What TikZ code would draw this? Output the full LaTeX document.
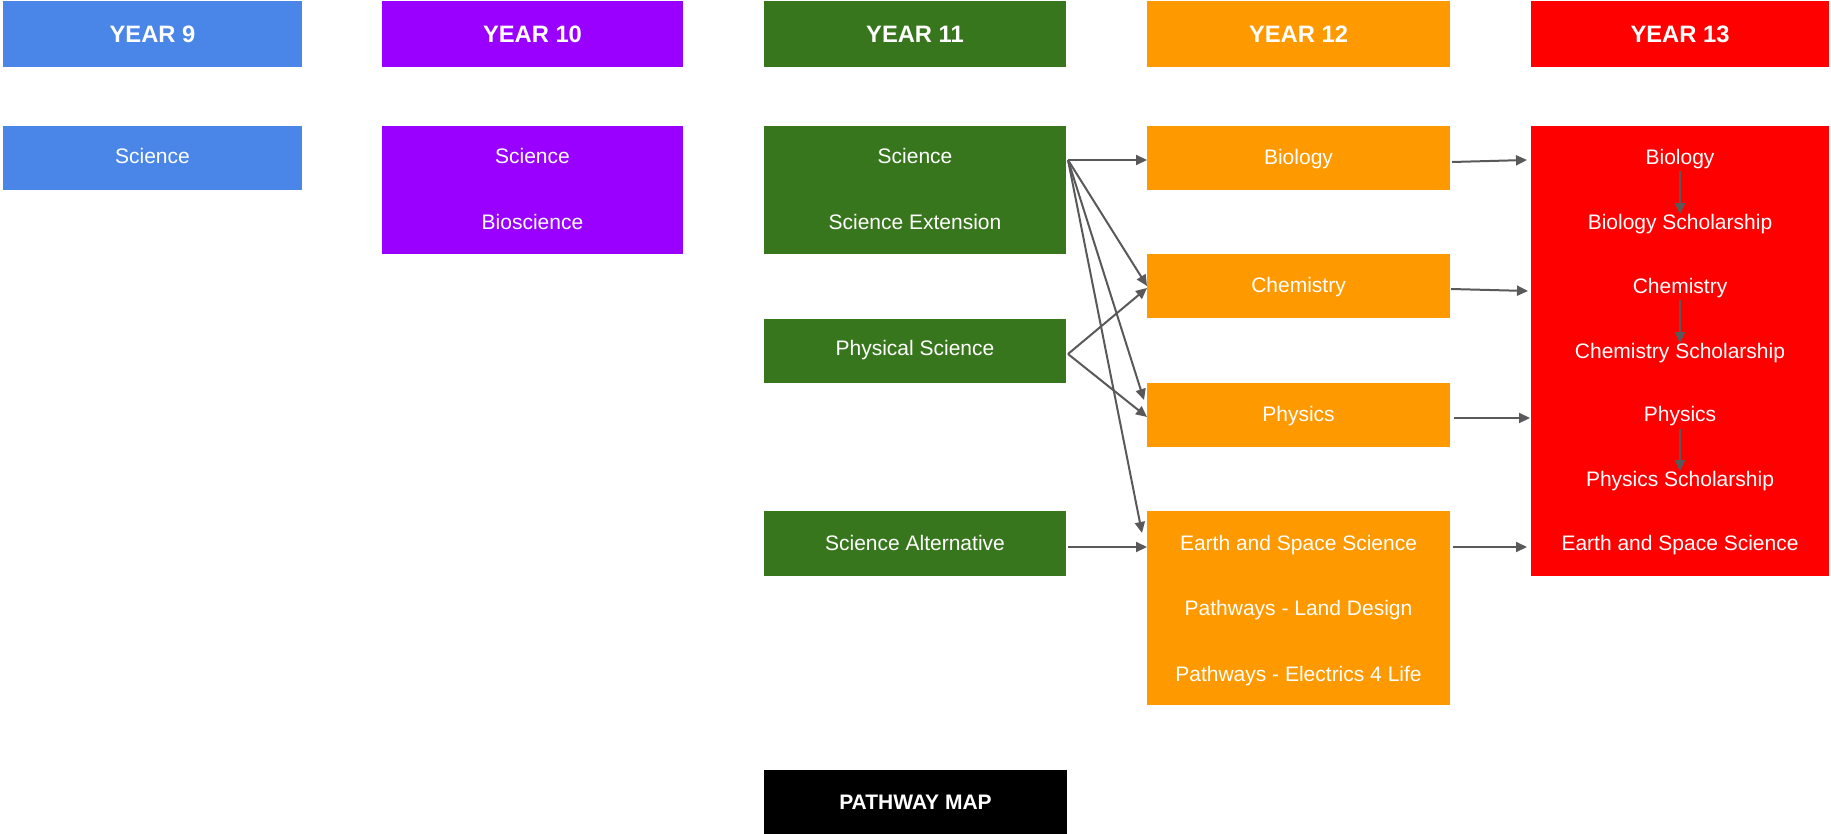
\documentclass[tikz,border=0pt]{standalone}
\usepackage{fontspec}
\setmainfont{Liberation Sans}
\usetikzlibrary{arrows.meta,fit,calc}
\definecolor{cnine}{HTML}{4A86E8}
\definecolor{cten}{HTML}{9900FF}
\definecolor{celeven}{HTML}{38761D}
\definecolor{ctwelve}{HTML}{FF9900}
\definecolor{cthirteen}{HTML}{FF0000}
\definecolor{arrowgray}{HTML}{595959}
\tikzset{
  box/.style={inner sep=0pt, outer sep=0pt},
  lbl/.style={inner sep=0pt, outer sep=0pt, text=white, font=\fontsize{15.75}{18}\selectfont},
  headlbl/.style={lbl, font=\fontsize{17.8}{20}\selectfont\bfseries},
  conn/.style={draw=arrowgray, line width=1.5pt, -{Triangle[length=8.25pt,width=7.5pt]}}
}
\begin{document}
\begin{tikzpicture}[x=0.75pt,y=-0.75pt]
\useasboundingbox (0,0) rectangle (1831,834);
% headers
\node[box, fill=cnine, fit={(3,1) (302,67)}] (h9) {};
\node[headlbl] (th9) at (h9.center) {YEAR 9};
\node[box, fill=cten, fit={(382,1) (683,67)}] (h10) {};
\node[headlbl] (th10) at (h10.center) {YEAR 10};
\node[box, fill=celeven, fit={(764,1) (1066,67)}] (h11) {};
\node[headlbl] (th11) at (h11.center) {YEAR 11};
\node[box, fill=ctwelve, fit={(1147,1) (1450,67)}] (h12) {};
\node[headlbl] (th12) at (h12.center) {YEAR 12};
\node[box, fill=cthirteen, fit={(1531,1) (1829,67)}] (h13) {};
\node[headlbl] (th13) at (h13.center) {YEAR 13};
% year 9
\node[box, fill=cnine, fit={(3,126) (302,190)}] (b9) {};
\node[lbl] (t9) at ($(b9.center)+(0,-2)$) {Science};
% year 10
\node[box, fill=cten, fit={(382,126) (683,254)}] (b10) {};
\node[lbl] (t10a) at (532.5,156) {Science};
\node[lbl] (t10b) at (532.5,222) {Bioscience};
% year 11
\node[box, fill=celeven, fit={(764,126) (1066,254)}] (b11a) {};
\node[lbl] (t11a) at (915,156) {Science};
\node[lbl] (t11b) at (915,222) {Science Extension};
\node[box, fill=celeven, fit={(764,319) (1066,383)}] (b11b) {};
\node[lbl] (t11c) at ($(b11b.center)+(0,-1)$) {Physical Science};
\node[box, fill=celeven, fit={(764,511) (1066,576)}] (b11c) {};
\node[lbl] (t11d) at ($(b11c.center)+(0,-1)$) {Science Alternative};
% year 12
\node[box, fill=ctwelve, fit={(1147,126) (1450,190)}] (b12bio) {};
\node[lbl] (t12bio) at ($(b12bio.center)+(0,1)$) {Biology};
\node[box, fill=ctwelve, fit={(1147,254) (1450,318)}] (b12chem) {};
\node[lbl] (t12chem) at ($(b12chem.center)+(0,1)$) {Chemistry};
\node[box, fill=ctwelve, fit={(1147,383) (1450,447)}] (b12phys) {};
\node[lbl] (t12phys) at ($(b12phys.center)+(0,1)$) {Physics};
\node[box, fill=ctwelve, fit={(1147,511) (1450,705)}] (b12earth) {};
\node[lbl] (t12a) at (1298.5,545.5) {Earth and Space Science};
\node[lbl] (t12b) at (1298.5,610.5) {Pathways - Land Design};
\node[lbl] (t12c) at (1298.5,676) {Pathways - Electrics 4 Life};
% year 13
\node[box, fill=cthirteen, fit={(1531,126) (1829,576)}] (b13) {};
\node[lbl] (t13a) at (1680,159) {Biology};
\node[lbl] (t13b) at (1680,224) {Biology Scholarship};
\node[lbl] (t13c) at (1680,288) {Chemistry};
\node[lbl] (t13d) at (1680,353) {Chemistry Scholarship};
\node[lbl] (t13e) at (1680,416.5) {Physics};
\node[lbl] (t13f) at (1680,481) {Physics Scholarship};
\node[lbl] (t13g) at (1680,545.5) {Earth and Space Science};
% pathway map
\node[box, fill=black, fit={(764,770) (1067,834)}] (pm) {};
\node[lbl, font=\fontsize{15.75}{18}\selectfont\bfseries] (tpm) at (pm.center) {PATHWAY MAP};
% connectors year 11 -> year 12
\coordinate (o11a) at ($(b11a.north east)+(2,34)$);
\coordinate (o11b) at ($(b11b.east)+(2,3)$);
\draw[conn] (o11a) -- ($(b12bio.west)+(0,2)$);
\draw[conn] (o11a) -- (b12chem.west);
\draw[conn] (o11a) -- ($(b12phys.north west)+(-3,17)$);
\draw[conn] (o11a) -- ($(b12earth.north west)+(-5,22)$);
\draw[conn] (o11b) -- ($(b12chem.west)+(0,2)$);
\draw[conn] (o11b) -- ($(b12phys.west)+(0,2)$);
\draw[conn] ($(b11c.east)+(2,3.5)$) -- ($(b12earth.north west)+(0,36)$);
% connectors year 12 -> year 13
\draw[conn] ($(b12bio.east)+(2,4)$) -- ($(b13.north west)+(-4,34)$);
\draw[conn] ($(b12chem.east)+(1,3)$) -- ($(b13.north west)+(-3,165)$);
\draw[conn] ($(b12phys.east)+(4,3)$) -- ($(b13.north west)+(-1,292)$);
\draw[conn] ($(b12earth.north east)+(3,36)$) -- ($(b13.north west)+(-4,421)$);
% year 13 internal
\draw[conn, shorten <=2pt] (t13a.south) -- (t13b.north);
\draw[conn, shorten <=2pt] (t13c.south) -- (t13d.north);
\draw[conn, shorten <=2pt] (t13e.south) -- (t13f.north);
\end{tikzpicture}
\end{document}
